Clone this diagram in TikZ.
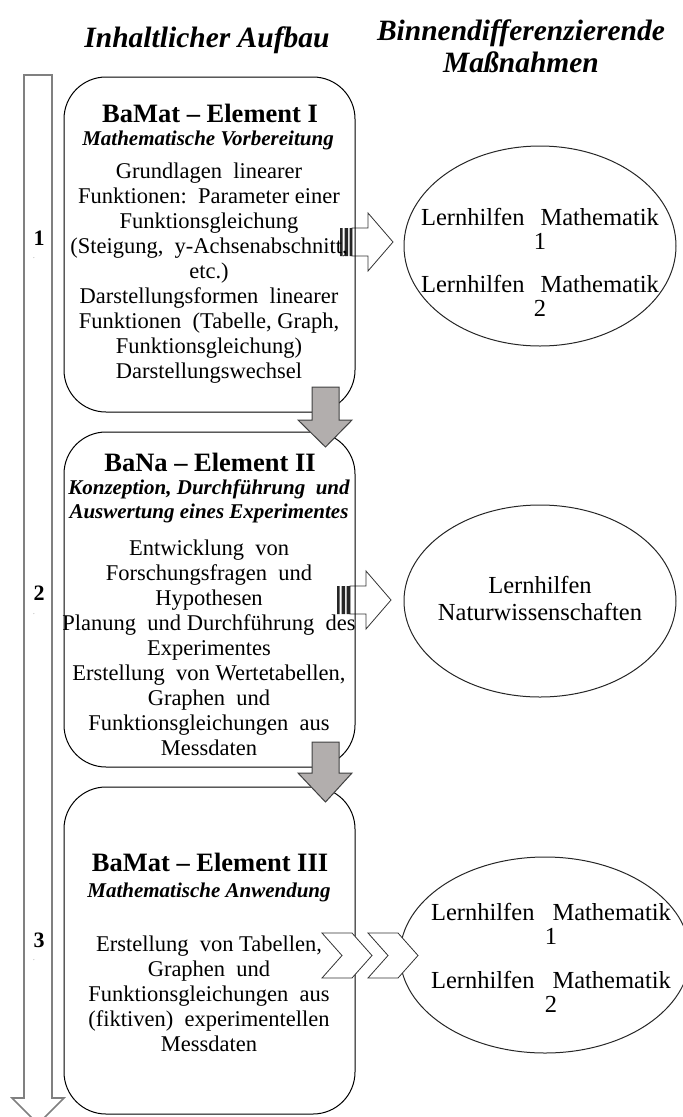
\documentclass[tikz,border=0pt]{standalone}
\usepackage{fontspec}
\setmainfont{Liberation Serif}
\usetikzlibrary{shapes.geometric}

\definecolor{arrowfill}{RGB}{178,174,173}
\definecolor{arrowedge}{RGB}{64,64,64}

\begin{document}
\begin{tikzpicture}[x=1pt,y=-1pt,
  box/.style={draw,rounded corners=42pt,minimum width=291pt,line width=1pt},
  oval/.style={ellipse,draw=black!85,line width=1pt,inner sep=0pt},
  boxtitle/.style={font=\fontsize{26.5}{28}\selectfont\bfseries},
  boxsub/.style={align=center,font=\fontsize{21}{24}\selectfont\bfseries\itshape},
  body/.style={align=center,font=\fontsize{22.5}{25}\selectfont},
  ovaltext/.style={align=center,font=\fontsize{24.5}{24}\selectfont},
  head/.style={align=center,font=\fontsize{29.5}{32}\selectfont\bfseries\itshape},
  downarrow/.style={fill=arrowfill,draw=arrowedge,line width=1pt},
  whitearrow/.style={fill=white,draw=black!80,line width=0.8pt},
  stripe/.style={fill=black!85}]
	\tikzstyle{every node}=[inner sep=0pt]
	\useasboundingbox (0,0) rectangle (683,1117);

	% column headers
	\draw (207,40) node(hleft) [head] {Inhaltlicher Aufbau}
	      (521,46) node(hright) [head] {Binnendifferenzierende\\Maßnahmen};

	% time arrow on the left
	\draw[draw=gray,line width=1.6pt,fill=white] (24,75) -- (52,75) -- (52,1098) -- (64,1098)
	      -- (38,1124) -- (12,1098) -- (24,1098) -- cycle;
	\draw (39,238) node(n1) [font=\fontsize{22}{24}\selectfont\bfseries] {1}
	      (39,593) node(n2) [font=\fontsize{22}{24}\selectfont\bfseries] {2}
	      (39,940) node(n3) [font=\fontsize{22}{24}\selectfont\bfseries] {3};
	\draw (34,258) node(d1) [font=\scriptsize,text=gray] {.}
	      (34,614) node(d2) [font=\scriptsize,text=gray] {.}
	      (34,960) node(d3) [font=\scriptsize,text=gray] {.};

	% ellipses
	\draw (540,246) node(e1) [oval,minimum width=272pt,minimum height=200pt] {}
	      (540,601) node(e2) [oval,minimum width=272pt,minimum height=192pt] {}
	      (545,955) node(e3) [oval,minimum width=290pt,minimum height=196pt] {};
	\draw (e1.center) ++(0,16) node(t1) [ovaltext] {Lernhilfen\hspace{16pt}Mathematik\\1\\[19pt]Lernhilfen\hspace{16pt}Mathematik\\2}
	      (e2.center) ++(0,-3) node(t2) [ovaltext,font=\fontsize{24.5}{27}\selectfont] {Lernhilfen\\Naturwissenschaften}
	      (e3.center) ++(6,3) node(t3) [ovaltext] {Lernhilfen\hspace{18pt}Mathematik\\1\\[20pt]Lernhilfen\hspace{18pt}Mathematik\\2};

	% striped arrows from the boxes
	\draw[whitearrow] (352,228) -- (368,228) -- (368,213) -- (393,242) -- (368,271) -- (368,256) -- (352,256) -- cycle;
	\fill[stripe] (340,228) rectangle (342.5,256) (344.5,228) rectangle (348,256) (349.5,228) rectangle (352,256);
	\draw[whitearrow] (350,586) -- (366,586) -- (366,571) -- (391,600) -- (366,629) -- (366,614) -- (350,614) -- cycle;
	\fill[stripe] (337,586) rectangle (339.5,614) (341.5,586) rectangle (345,614) (346.5,586) rectangle (350,614);

	% boxes
	\draw (209.5,244.5) node(box1) [box,minimum height=335pt] {}
	      (209.5,599.5) node(box2) [box,minimum height=335pt] {}
	      (209.5,950.5) node(box3) [box,minimum height=327pt] {};

	% chevrons
	\draw[whitearrow] (322,933) -- (352,933) -- (372,955.5) -- (352,978) -- (322,978) -- (342,955.5) -- cycle;
	\draw[whitearrow] (368,933) -- (398,933) -- (418,955.5) -- (398,978) -- (368,978) -- (388,955.5) -- cycle;

	% box 1
	\draw (210,113) node(ti1) [boxtitle] {BaMat -- Element I}
	      (208,140) node(su1) [boxsub] {Mathematische Vorbereitung}
	      (209,273) node(bo1) [body] {Grundlagen\ \ linearer\\Funktionen:\ \ Parameter einer\\Funktionsgleichung\\(Steigung,\ \ y-Achsenabschnitt,\\etc.)\\Darstellungsformen\ \ linearer\\Funktionen\ \ (Tabelle, Graph,\\Funktionsgleichung)\\Darstellungswechsel};

	% box 2
	\draw (210,462) node(ti2) [boxtitle] {BaNa -- Element II}
	      (209,501) node(su2) [boxsub] {Konzeption, Durchführung\ \ und\\Auswertung eines Experimentes}
	      (209,648) node(bo2) [body] {Entwicklung\ \ von\\Forschungsfragen\ \ und\\Hypothesen\\Planung\ \ und Durchführung\ \ des\\Experimentes\\Erstellung\ \ von Wertetabellen,\\Graphen\ \ und\\Funktionsgleichungen\ \ aus\\Messdaten};

	% box 3
	\draw (210,862) node(ti3) [boxtitle] {BaMat -- Element III}
	      (209,892) node(su3) [boxsub] {Mathematische Anwendung}
	      (209,994) node(bo3) [body] {Erstellung\ \ von Tabellen,\\Graphen\ \ und\\Funktionsgleichungen\ \ aus\\(fiktiven)\ \ experimentellen\\Messdaten};

	% grey arrows between the boxes
	\draw[downarrow] (312,387) -- (339,387) -- (339,420) -- (352,420) -- (325.5,447) -- (298,420) -- (312,420) -- cycle;
	\draw[downarrow] (312,742) -- (339,742) -- (339,773) -- (352,773) -- (325.5,802) -- (298,773) -- (312,773) -- cycle;
\end{tikzpicture}
\end{document}
